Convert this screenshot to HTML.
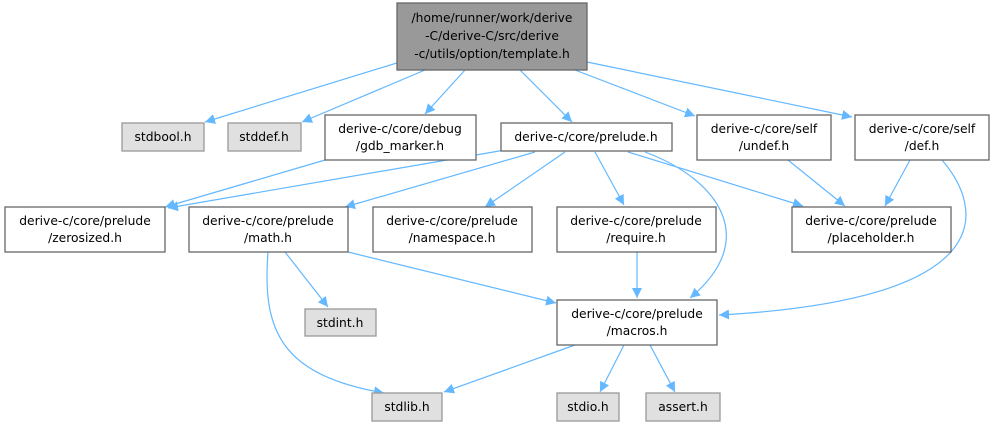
<!DOCTYPE html>
<html><head><meta charset="utf-8"><style>
html,body{margin:0;padding:0;background:#fff;width:995px;height:426px;overflow:hidden}
text{font-family:"DejaVu Sans","Liberation Sans",sans-serif;font-size:12.3px;fill:#000;text-anchor:middle}
.n{fill:#fff;stroke:#666;stroke-width:1.3}
.g{fill:#e0e0e0;stroke:#999;stroke-width:1.3}
.e{fill:none;stroke:#63b8ff;stroke-width:1.2}
</style></head><body>
<svg width="995" height="426" xmlns="http://www.w3.org/2000/svg">
<defs><marker id="a" viewBox="0 0 10 10" refX="10" refY="5" markerWidth="10" markerHeight="10" markerUnits="userSpaceOnUse" orient="auto"><path d="M0,0L10,5L0,10z" fill="#63b8ff"/></marker></defs>
<g class="e" marker-end="url(#a)">
<path d="M400,62L205,122"/>
<path d="M425,70L302,122"/>
<path d="M465,70L425,114"/>
<path d="M520,70L572,122"/>
<path d="M575,70L695,116"/>
<path d="M587,62L852,117"/>
<path d="M325,160L165,207"/>
<path d="M505,150L168,208"/>
<path d="M535,152L345,207"/>
<path d="M565,152L485,207"/>
<path d="M595,152L624,205"/>
<path d="M628,152L803,206"/>
<path d="M645,152C720,180 760,240 690,298"/>
<path d="M788,160L845,206"/>
<path d="M910,160L885,206"/>
<path d="M942,160C985,210 1000,300 719,315"/>
<path d="M285,252L328,307"/>
<path d="M348,252L556,303"/>
<path d="M268,252C262,330 280,375 384,393"/>
<path d="M637,252L637,298"/>
<path d="M575,345L444,392"/>
<path d="M624,345L600,392"/>
<path d="M650,345L675,392"/>
</g>
<rect x="397" y="3" width="190" height="67" fill="#999" stroke="#666" stroke-width="1.3"/>
<text x="492" y="22">/home/runner/work/derive</text>
<text x="492" y="40">-C/derive-C/src/derive</text>
<text x="492" y="58">-c/utils/option/template.h</text>
<rect class="g" x="122" y="123" width="82" height="28"/><text x="163" y="141">stdbool.h</text>
<rect class="g" x="228" y="123" width="73" height="28"/><text x="264" y="141">stddef.h</text>
<rect class="n" x="325" y="115" width="151" height="45"/><text x="400" y="133">derive-c/core/debug</text><text x="400" y="150">/gdb_marker.h</text>
<rect class="n" x="501" y="123" width="171" height="28"/><text x="586" y="141">derive-c/core/prelude.h</text>
<rect class="n" x="697" y="115" width="134" height="45"/><text x="764" y="133">derive-c/core/self</text><text x="764" y="150">/undef.h</text>
<rect class="n" x="855" y="115" width="134" height="45"/><text x="922" y="133">derive-c/core/self</text><text x="922" y="150">/def.h</text>
<rect class="n" x="5" y="207" width="160" height="45"/><text x="85" y="225">derive-c/core/prelude</text><text x="85" y="242">/zerosized.h</text>
<rect class="n" x="189" y="207" width="159" height="45"/><text x="268" y="225">derive-c/core/prelude</text><text x="268" y="242">/math.h</text>
<rect class="n" x="373" y="207" width="159" height="45"/><text x="452" y="225">derive-c/core/prelude</text><text x="452" y="242">/namespace.h</text>
<rect class="n" x="557" y="207" width="159" height="45"/><text x="636" y="225">derive-c/core/prelude</text><text x="636" y="242">/require.h</text>
<rect class="n" x="792" y="207" width="159" height="45"/><text x="871" y="225">derive-c/core/prelude</text><text x="871" y="242">/placeholder.h</text>
<rect class="g" x="305" y="309" width="71" height="27"/><text x="340" y="327">stdint.h</text>
<rect class="n" x="557" y="300" width="160" height="45"/><text x="637" y="318">derive-c/core/prelude</text><text x="637" y="335">/macros.h</text>
<rect class="g" x="372" y="393" width="70" height="28"/><text x="407" y="411">stdlib.h</text>
<rect class="g" x="557" y="393" width="62" height="28"/><text x="588" y="411">stdio.h</text>
<rect class="g" x="646" y="393" width="74" height="28"/><text x="683" y="411">assert.h</text>
</svg>
</body></html>
